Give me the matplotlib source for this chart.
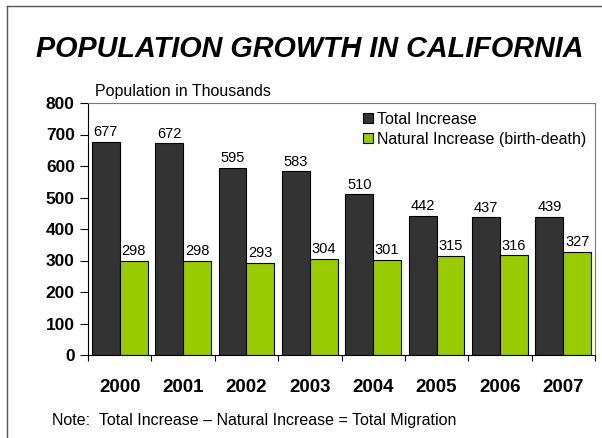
import numpy as np
import matplotlib
matplotlib.use("Agg")
import matplotlib.pyplot as plt
from matplotlib.lines import Line2D

years = ["2000", "2001", "2002", "2003", "2004", "2005", "2006", "2007"]
total_increase = [677, 672, 595, 583, 510, 442, 437, 439]
natural_increase = [298, 298, 293, 304, 301, 315, 316, 327]
y_ticks = [0, 100, 200, 300, 400, 500, 600, 700, 800]

plt.rcParams["font.family"] = ["Liberation Sans", "DejaVu Sans"]

dark = "#333333"
green = "#99CC00"

W, H = 602, 438
fig = plt.figure(figsize=(W / 100, H / 100), dpi=100)
ax = fig.add_axes([88 / W, (H - 355) / H, (595 - 88) / W, (355 - 103) / H])

# outer frame (left and top edges visible)
fig.add_artist(Line2D([7 / W, 7 / W], [0, 1 - 6 / H], color="#555555", lw=1))
fig.add_artist(Line2D([7 / W, 1], [1 - 6 / H, 1 - 6 / H], color="#555555", lw=1))

x = np.arange(len(years))
w = 0.44
b1 = ax.bar(x - w / 2, total_increase, w, color=dark, edgecolor="black", lw=0.8,
            label="Total Increase")
b2 = ax.bar(x + w / 2, natural_increase, w, color=green, edgecolor="black", lw=0.8,
            label="Natural Increase (birth-death)")

for bars, vals in ((b1, total_increase), (b2, natural_increase)):
    for rect, v in zip(bars, vals):
        ax.annotate(str(v), (rect.get_x() + rect.get_width() / 2, v),
                    xytext=(0, 2), textcoords="offset points",
                    ha="center", va="bottom", fontsize=10.5)

ax.set_xlim(-0.5, len(years) - 0.5)
ax.set_ylim(0, 800)
ax.set_yticks(y_ticks)
ax.set_yticklabels([str(t) for t in y_ticks], fontsize=12.5, fontweight="bold")
ax.tick_params(axis="y", length=6, width=0.8, pad=3.5)

ax.set_xticks(x)
ax.set_xticklabels(years, fontsize=13.5, fontweight="bold")
ax.tick_params(axis="x", which="major", length=0, pad=17)
ax.set_xticks(np.arange(-0.5, len(years), 1), minor=True)
ax.tick_params(axis="x", which="minor", length=4, width=0.8)

for s in ("top", "right"):
    ax.spines[s].set_color("#777777")
    ax.spines[s].set_linewidth(0.8)
for s in ("left", "bottom"):
    ax.spines[s].set_color("black")
    ax.spines[s].set_linewidth(0.8)

ax.legend(loc="upper right", bbox_to_anchor=(1.0, 1.0), frameon=False,
          fontsize=11.5, handlelength=0.62, handleheight=0.62, handletextpad=0.25,
          labelspacing=0.3, borderaxespad=0.15)

fig.text(310 / W, 1 - 57 / H, "POPULATION GROWTH IN CALIFORNIA",
         ha="center", va="baseline", fontsize=20.7, fontweight="bold", style="italic")
fig.text(95 / W, 1 - 96 / H, "Population in Thousands", ha="left", va="baseline",
         fontsize=11.5)
fig.text(52 / W, 1 - 425 / H, "Note:  Total Increase \u2013 Natural Increase = Total Migration",
         ha="left", va="baseline", fontsize=11.5)

fig.savefig("out.png", dpi=100)
